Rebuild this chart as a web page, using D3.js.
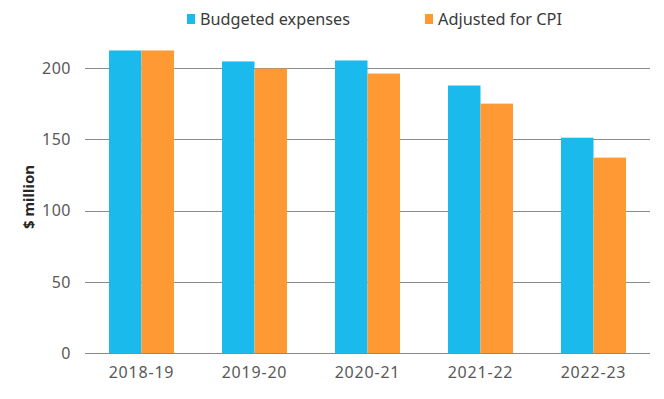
<!DOCTYPE html>
<html>
<head>
<meta charset="utf-8">
<script src="https://cdn.jsdelivr.net/npm/d3@7"></script>
<style>
  body { margin: 0; background: #fff; }
  svg { display: block; font-family: 'Noto Sans', sans-serif; }
</style>
</head>
<body>
<svg></svg>
<script>
'use strict';

const svgWidth = 664;
const svgHeight = 399;

const years = ['2018-19', '2019-20', '2020-21', '2021-22', '2022-23'];
const budgeted = [212.3, 204.6, 205.3, 187.7, 151.1];
const adjusted = [212.3, 199.6, 196.1, 175.0, 137.1];
const seriesNames = ['Budgeted expenses', 'Adjusted for CPI'];
const seriesColors = ['#1bbaec', '#ff9933'];
const yTicks = [0, 50, 100, 150, 200];

const svg = d3.select('svg')
  .attr('width', svgWidth)
  .attr('height', svgHeight);

const plotLeft = 85, plotRight = 650, plotTop = 68, plotBottom = 353;

const x = d3.scaleBand()
  .domain(years)
  .range([plotLeft, plotRight])
  .paddingInner(0.425)
  .paddingOuter(0.2125);

const xInner = d3.scaleBand()
  .domain([0, 1])
  .range([0, x.bandwidth()]);

const y = d3.scaleLinear()
  .domain([0, 200])
  .range([plotBottom, plotTop]);

// gridlines
svg.append('g')
  .selectAll('line')
  .data(yTicks)
  .join('line')
  .attr('x1', plotLeft)
  .attr('x2', plotRight)
  .attr('y1', d => Math.round(y(d)) + 0.5)
  .attr('y2', d => Math.round(y(d)) + 0.5)
  .attr('stroke', '#8a8a8a')
  .attr('stroke-width', 1);

// y tick labels
svg.append('g')
  .selectAll('text')
  .data(yTicks)
  .join('text')
  .attr('x', 71)
  .attr('y', d => y(d))
  .attr('dy', '0.36em')
  .attr('text-anchor', 'end')
  .attr('font-size', 16)
  .attr('letter-spacing', 0.5)
  .attr('fill', '#595959')
  .text(d => d);

// bars
const rows = years.map((yr, i) => ({ yr, vals: [budgeted[i], adjusted[i]] }));

const groups = svg.append('g')
  .selectAll('g')
  .data(rows)
  .join('g')
  .attr('transform', d => `translate(${x(d.yr)},0)`);

groups.selectAll('rect')
  .data(d => d.vals.map((v, k) => ({ v, k })))
  .join('rect')
  .attr('x', d => xInner(d.k))
  .attr('width', xInner.bandwidth())
  .attr('y', d => y(d.v))
  .attr('height', d => y(0) - y(d.v))
  .attr('fill', d => seriesColors[d.k]);

// x labels
svg.append('g')
  .selectAll('text')
  .data(years)
  .join('text')
  .attr('x', d => x(d) + x.bandwidth() / 2)
  .attr('y', 378)
  .attr('text-anchor', 'middle')
  .attr('font-size', 16)
  .attr('letter-spacing', 0.8)
  .attr('fill', '#595959')
  .text(d => d);

// y axis title
svg.append('text')
  .attr('transform', 'translate(34,197) rotate(-90)')
  .attr('text-anchor', 'middle')
  .attr('font-size', 15)
  .attr('font-weight', 'bold')
  .attr('fill', '#262626')
  .text('$ million');

// legend
const legendX = [187, 425];
const legendW = [150, 124];
const legend = svg.append('g')
  .selectAll('g')
  .data(seriesNames)
  .join('g')
  .attr('transform', (d, i) => `translate(${legendX[i]},14)`);

legend.append('rect')
  .attr('width', 8)
  .attr('height', 10)
  .attr('fill', (d, i) => seriesColors[i]);

legend.append('text')
  .attr('x', 13)
  .attr('y', 11)
  .attr('font-size', 17)
  .attr('textLength', (d, i) => legendW[i])
  .attr('lengthAdjust', 'spacingAndGlyphs')
  .attr('fill', '#3a3a3a')
  .text(d => d);
</script>
</body>
</html>
